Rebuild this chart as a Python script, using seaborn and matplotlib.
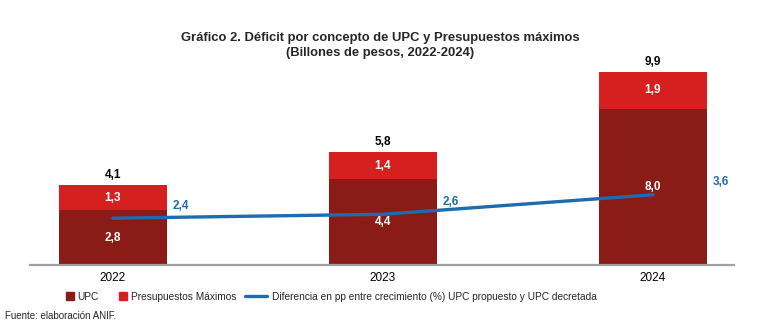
import matplotlib
matplotlib.use("Agg")
import matplotlib.pyplot as plt
import seaborn as sns
import pandas as pd
from matplotlib.lines import Line2D

years = ["2022", "2023", "2024"]
upc = [2.8, 4.4, 8.0]
presupuestos = [1.3, 1.4, 1.9]
totals = [4.1, 5.8, 9.9]
diferencia = [2.4, 2.6, 3.6]

sns.set_theme(style="white")
fam = ["Liberation Sans Narrow", "Liberation Sans", "DejaVu Sans"]
plt.rcParams["font.family"] = fam

c_upc = "#8A1B16"
c_pm = "#D5201F"
c_line = "#1F6BB0"

df = pd.DataFrame({"year": years, "upc": upc, "pm": presupuestos,
                   "total": totals, "dif": diferencia})

fig = plt.figure(figsize=(7.6, 3.36), dpi=100)
ax = fig.add_axes([30/760, (336-265)/336, (734-30)/760, 205/336])

sns.barplot(data=df, x="year", y="total", color=c_pm, width=0.4,
            saturation=1, ax=ax, edgecolor="none", linewidth=0)
sns.barplot(data=df, x="year", y="upc", color=c_upc, width=0.4,
            saturation=1, ax=ax, edgecolor="none", linewidth=0)
sns.lineplot(data=df, x="year", y="dif", color=c_line, linewidth=2.4,
             ax=ax, sort=False)

ax.set_xlim(-0.307, 2.30)
ax.set_ylim(0, 10.51)
ax.set_xlabel("")
ax.set_ylabel("")
ax.set_yticks([])
for s in ["top", "left", "right"]:
    ax.spines[s].set_visible(False)
ax.spines["bottom"].set_color("#A0A0A0")
ax.spines["bottom"].set_linewidth(1.6)
ax.tick_params(axis="x", length=0, pad=5, labelsize=8.5, colors="black")
for t in ax.get_xticklabels():
    t.set_fontfamily(fam)

def fmt(v):
    return f"{v:.1f}".replace(".", ",")

for i in range(len(years)):
    ax.text(i, upc[i] / 2, fmt(upc[i]), ha="center", va="center",
            color="white", fontsize=8.5, fontweight="bold")
    ax.text(i, upc[i] + presupuestos[i] / 2, fmt(presupuestos[i]),
            ha="center", va="center", color="white", fontsize=8.5,
            fontweight="bold")
    ax.annotate(fmt(totals[i]), (i, totals[i]), xytext=(0, 3),
                textcoords="offset points", ha="center", va="bottom",
                fontsize=8.5, fontweight="bold", color="black")
    ax.annotate(fmt(diferencia[i]), (i, diferencia[i]), xytext=(49, 9),
                textcoords="offset points", ha="center", va="center",
                fontsize=8.5, fontweight="bold", color=c_line)

fig.text(0.5, 1 - 38/336, "Gráfico 2. Déficit por concepto de UPC y Presupuestos máximos",
         ha="center", va="center", fontsize=9.4, fontweight="bold")
fig.text(0.5, 1 - 53/336, "(Billones de pesos, 2022-2024)",
         ha="center", va="center", fontsize=9.4, fontweight="bold")

sq_handles = [
    Line2D([], [], marker="s", linestyle="none", markersize=5.4,
           markerfacecolor=c_upc, markeredgecolor=c_upc),
    Line2D([], [], marker="s", linestyle="none", markersize=5.4,
           markerfacecolor=c_pm, markeredgecolor=c_pm),
]
sq_labels = ["UPC", "Presupuestos Máximos"]
fig.legend(sq_handles, sq_labels, loc="center left",
           bbox_to_anchor=(66/760, 1 - 297/336), ncol=2, frameon=False,
           fontsize=7.3, handlelength=0.8, handletextpad=0.35,
           columnspacing=2.0, borderaxespad=0, borderpad=0)

line_handles = [Line2D([], [], color=c_line, linewidth=2.4)]
line_labels = ["Diferencia en pp entre crecimiento (%) UPC propuesto y UPC decretada"]
fig.legend(line_handles, line_labels, loc="center left",
           bbox_to_anchor=(245/760, 1 - 297/336), ncol=1, frameon=False,
           fontsize=7.3, handlelength=2.2, handletextpad=0.5,
           borderaxespad=0, borderpad=0)

fig.text(5/760, 1 - 316/336, "Fuente: elaboración ANIF.", ha="left",
         va="center", fontsize=7)

fig.savefig("out.png", dpi=100, facecolor="white")
